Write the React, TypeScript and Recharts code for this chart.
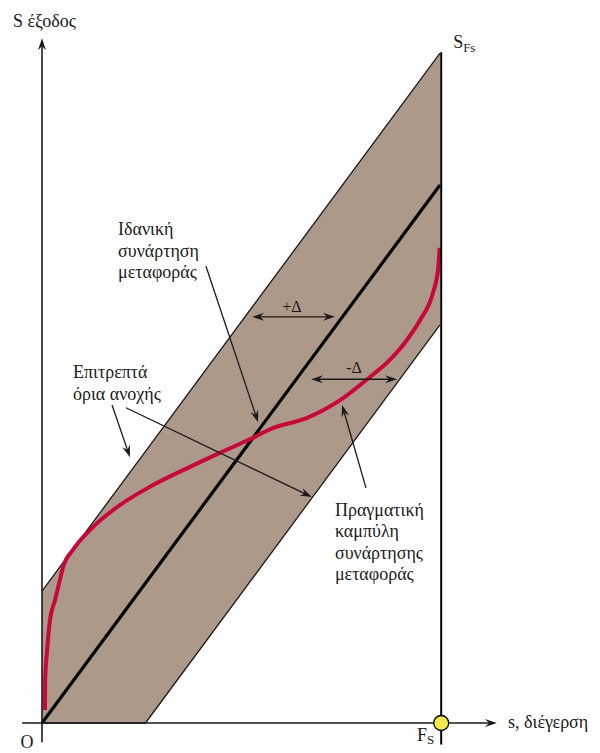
import React from "react";
import {
  ComposedChart,
  Area,
  Line,
  XAxis,
  YAxis,
  ReferenceLine,
  ReferenceDot,
} from "recharts";

// tolerance band: corners of the allowed region
const bandX = [0, 26, 100];
const bandLow = [0, 0, 74];
const bandHigh = [24.5, 50.5, 124.5];

// ideal transfer function
const idealX = [0, 100];
const idealY = [0, 100];

// measured transfer curve
const actualX = [
  0.75, 0.8, 1.3, 2.0, 3.3, 4.5, 5.3, 7.8, 12.1, 18.8, 27.1, 37.2, 44.7, 51.8,
  58.0, 66.6, 74.9, 81.7, 87.4, 91.7, 95.0, 98.2, 99.5, 99.9,
];
const actualY = [
  2.4, 8.0, 13.6, 19.1, 22.9, 26.6, 29.0, 32.2, 35.9, 40.1, 43.9, 47.6, 50.2,
  52.6, 54.8, 56.7, 60.0, 63.9, 67.5, 71.2, 74.9, 79.9, 84.2, 88.3,
];

const idealLabel = ["Ιδανική", "συνάρτηση", "μεταφοράς"];
const toleranceLabel = ["Επιτρεπτά", "όρια ανοχής"];
const actualLabel = ["Πραγματική", "καμπύλη", "συνάρτησης", "μεταφοράς"];

const bandData = bandX.map((x, i) => ({ x, band: [bandLow[i], bandHigh[i]] }));
const idealData = idealX.map((x, i) => ({ x, y: idealY[i] }));
const actualData = actualX.map((x, i) => ({ x, y: actualY[i] }));

const FONT = '"Liberation Serif", "Times New Roman", serif';
const INK = "#1a1a1a";

// arrow head polygon with its tip at (x, y), pointing along angle a
const headPts = (x: number, y: number, a: number, len = 12, half = 4) => {
  const c = Math.cos(a);
  const s = Math.sin(a);
  const bx = x - c * len;
  const by = y - s * len;
  const nx = x - c * len * 0.65;
  const ny = y - s * len * 0.65;
  return `${x},${y} ${bx - s * half},${by + c * half} ${nx},${ny} ${bx + s * half},${by - c * half}`;
};

const arrowShape =
  (heads: "end" | "both", width = 1.3) =>
  (p: any) => {
    const x1 = Number(p.x1);
    const y1 = Number(p.y1);
    const x2 = Number(p.x2);
    const y2 = Number(p.y2);
    const a = Math.atan2(y2 - y1, x2 - x1);
    const cut = 12 * 0.65;
    const ex = x2 - Math.cos(a) * cut;
    const ey = y2 - Math.sin(a) * cut;
    const sx = heads === "both" ? x1 + Math.cos(a) * cut : x1;
    const sy = heads === "both" ? y1 + Math.sin(a) * cut : y1;
    return (
      <g>
        <line x1={sx} y1={sy} x2={ex} y2={ey} stroke={INK} strokeWidth={width} />
        <polygon points={headPts(x2, y2, a)} fill={INK} />
        {heads === "both" && <polygon points={headPts(x1, y1, a + Math.PI)} fill={INK} />}
      </g>
    );
  };

const textShape =
  (lines: string[], step = 21.5, size = 18, anchor: "start" | "middle" = "start") =>
  (p: any) => (
    <text
      x={p.cx}
      y={p.cy}
      fontSize={size}
      fontFamily={FONT}
      fill={INK}
      textAnchor={anchor}
    >
      {lines.map((l, i) => (
        <tspan key={i} x={p.cx} dy={i ? step : 0}>
          {l}
        </tspan>
      ))}
    </text>
  );

const subShape =
  (main: string, sub: string, size = 18, subSize = 13, drop = 4) =>
  (p: any) => (
    <text x={p.cx} y={p.cy} fontSize={size} fontFamily={FONT} fill={INK}>
      {main}
      <tspan fontSize={subSize} dy={drop}>
        {sub}
      </tspan>
    </text>
  );

export default function App() {
  return (
    <div style={{ position: "absolute", left: 0, top: 0, background: "#fff" }}>
      <ComposedChart
        width={600}
        height={753}
        margin={{ top: 34.4, right: 100.3, bottom: 8.5, left: 22.1 }}
      >
        <XAxis dataKey="x" type="number" domain={[-5, 115]} hide allowDataOverflow />
        <YAxis type="number" domain={[-4, 128]} hide allowDataOverflow />

        <Area
          data={bandData}
          dataKey="band"
          type="linear"
          fill="#ad998a"
          fillOpacity={1}
          stroke={INK}
          strokeWidth={1.3}
          isAnimationActive={false}
          dot={false}
          activeDot={false}
        />
        <Line
          data={idealData}
          dataKey="y"
          type="linear"
          stroke="#000"
          strokeWidth={3.2}
          dot={false}
          activeDot={false}
          isAnimationActive={false}
        />
        <Line
          data={actualData}
          dataKey="y"
          type="monotone"
          stroke="#c8073a"
          strokeWidth={4}
          dot={false}
          activeDot={false}
          isAnimationActive={false}
        />

        {/* axes and the F_S vertical */}
        <ReferenceLine
          segment={[{ x: 0, y: -3.6 }, { x: 0, y: 127.3 }]}
          ifOverflow="visible"
          shape={arrowShape("end", 1.6)}
        />
        <ReferenceLine
          segment={[{ x: -5, y: 0 }, { x: 114.3, y: 0 }]}
          ifOverflow="visible"
          shape={arrowShape("end", 1.6)}
        />
        <ReferenceLine
          segment={[{ x: 100.3, y: -4 }, { x: 100.3, y: 124.7 }]}
          ifOverflow="visible"
          stroke="#000"
          strokeWidth={2}
        />

        {/* ±Δ spans */}
        <ReferenceLine
          segment={[{ x: 52.8, y: 75.5 }, { x: 73.6, y: 75.5 }]}
          ifOverflow="visible"
          shape={arrowShape("both")}
        />
        <ReferenceLine
          segment={[{ x: 67.6, y: 63.9 }, { x: 89.2, y: 63.9 }]}
          ifOverflow="visible"
          shape={arrowShape("both")}
        />

        {/* callout pointers */}
        <ReferenceLine
          segment={[{ x: 41.2, y: 84.9 }, { x: 54.3, y: 55.9 }]}
          ifOverflow="visible"
          shape={arrowShape("end")}
        />
        <ReferenceLine
          segment={[{ x: 17.6, y: 59.1 }, { x: 22.1, y: 49.4 }]}
          ifOverflow="visible"
          shape={arrowShape("end")}
        />
        <ReferenceLine
          segment={[{ x: 21.1, y: 58.6 }, { x: 67.8, y: 42.0 }]}
          ifOverflow="visible"
          shape={arrowShape("end")}
        />
        <ReferenceLine
          segment={[{ x: 81.4, y: 43.7 }, { x: 75.4, y: 59.1 }]}
          ifOverflow="visible"
          shape={arrowShape("end")}
        />

        <ReferenceDot
          x={100.3}
          y={0}
          r={7.5}
          fill="#f2ea4b"
          stroke="#000"
          strokeWidth={1.3}
          ifOverflow="visible"
        />

        {/* text */}
        <ReferenceDot x={-7.3} y={129.4} ifOverflow="visible" shape={textShape(["S έξοδος"])} />
        <ReferenceDot x={103.3} y={125.5} ifOverflow="visible" shape={subShape("S", "Fs")} />
        <ReferenceDot x={-3.8} y={-4.6} ifOverflow="visible" shape={textShape(["O"], 0, 18, "middle")} />
        <ReferenceDot x={94.2} y={-3.4} ifOverflow="visible" shape={subShape("F", "S", 18, 13, 3)} />
        <ReferenceDot x={117.1} y={-0.9} ifOverflow="visible" shape={textShape(["s, διέγερση"])} />
        <ReferenceDot x={62.8} y={76.4} ifOverflow="visible" shape={textShape(["+Δ"], 0, 16, "middle")} />
        <ReferenceDot x={78.4} y={65.1} ifOverflow="visible" shape={textShape(["-Δ"], 0, 16, "middle")} />
        <ReferenceDot x={19.1} y={90.7} ifOverflow="visible" shape={textShape(idealLabel)} />
        <ReferenceDot x={7.8} y={64.1} ifOverflow="visible" shape={textShape(toleranceLabel, 22)} />
        <ReferenceDot x={73.6} y={38.5} ifOverflow="visible" shape={textShape(actualLabel)} />
      </ComposedChart>
    </div>
  );
}
